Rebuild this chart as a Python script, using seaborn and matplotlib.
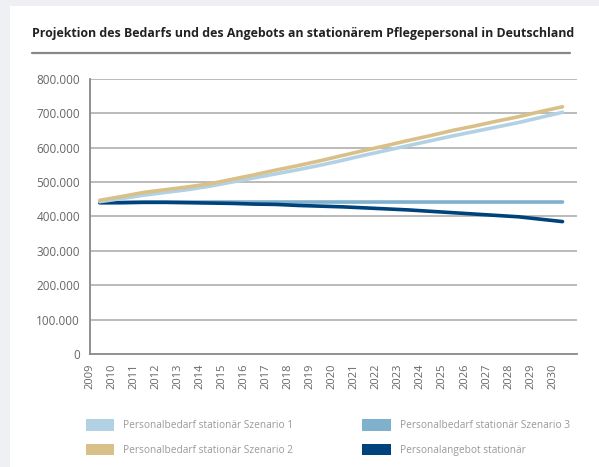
import numpy as np
import pandas as pd
import matplotlib
matplotlib.use("Agg")
import matplotlib.pyplot as plt
import seaborn as sns
from matplotlib.patches import Patch
from matplotlib.lines import Line2D

# Jahre und Werte
jahre = list(range(2009, 2031))
szenario1 = [443000, 452000, 462000, 470000, 478000, 488000, 500000, 512000, 524000, 536000,
             549000, 563000, 578000, 592000, 606000, 620000, 634000, 647000, 660000, 673000,
             688000, 703000]
szenario2 = [447000, 458000, 470000, 478000, 486000, 495000, 508000, 521000, 535000, 548000,
             562000, 577000, 592000, 606000, 621000, 635000, 650000, 663000, 677000, 690000,
             705000, 719000]
szenario3 = [440000, 441000, 442000, 442000, 442000, 442000, 442000, 442000, 442000, 442000,
             442000, 442000, 442000, 442000, 442000, 442000, 442000, 442000, 442000, 442000,
             442000, 442000]
angebot = [440000, 440000, 441000, 441000, 440000, 439000, 438000, 436000, 435000, 432000,
           430000, 428000, 425000, 422000, 419000, 415000, 411000, 407000, 403000, 399000,
           392000, 385000]

namen = ["Personalbedarf stationär Szenario 1", "Personalbedarf stationär Szenario 2",
         "Personalbedarf stationär Szenario 3", "Personalangebot stationär"]
farben = ["#b3d1e4", "#d9c088", "#7fb0cc", "#00427b"]

df = pd.DataFrame({
    "jahr": jahre * 4,
    "wert": szenario1 + szenario2 + szenario3 + angebot,
    "reihe": sum([[n] * len(jahre) for n in namen], []),
})
# Linien liegen etwas rechts vom Jahresstrich
df["x"] = df["jahr"] + 0.45

sns.set_style("white")
plt.rcParams["font.family"] = ["Open Sans", "DejaVu Sans"]

fig = plt.figure(figsize=(5.99, 4.67), dpi=100)
fig.patch.set_facecolor("#eef0f4")
# weisses Panel
fig.add_artist(plt.Rectangle((10 / 599, 0), 1, 1 - 6 / 467, transform=fig.transFigure,
                             facecolor="white", edgecolor="none", zorder=0))

ax = fig.add_axes([0.150, 0.242, 0.813, 0.589])
ax.set_facecolor("white")

for y in range(100000, 800001, 100000):
    ax.axhline(y, color="#b5b5b5", lw=1.3, zorder=1)

sns.lineplot(data=df, x="x", y="wert", hue="reihe", hue_order=[namen[2], namen[3], namen[0], namen[1]],
             palette=dict(zip(namen, farben)), lw=2.6, ax=ax, legend=False, zorder=3)

ax.set_xlim(2009, 2031.1)
ax.set_ylim(0, 800000)
ax.set_xticks(jahre)
ax.set_xticklabels([str(j) for j in jahre], rotation=90, fontsize=8, color="#666666")
ax.set_yticks(range(0, 800001, 100000))
ax.set_yticklabels(["0"] + [f"{v // 1000}.000" for v in range(100000, 800001, 100000)],
                   fontsize=8.5, color="#666666")
ax.set_xlabel("")
ax.set_ylabel("")
for s in ["top", "right"]:
    ax.spines[s].set_visible(False)
for s in ["left", "bottom"]:
    ax.spines[s].set_color("#888888")
    ax.spines[s].set_linewidth(1.3)
ax.tick_params(axis="both", direction="out", length=5, width=1.2, color="#888888", pad=2)

fig.text(32 / 599, 1 - 33 / 467, "Projektion des Bedarfs und des Angebots an stationärem Pflegepersonal in Deutschland",
         fontsize=8.9, fontweight="bold", color="#222222", va="center", ha="left")
fig.add_artist(Line2D([32 / 599, 570 / 599], [1 - 53 / 467] * 2, transform=fig.transFigure,
                      color="#888888", lw=1.6))

handles = [Patch(facecolor=c, edgecolor="none") for c in farben]
fig.legend(handles, namen, ncol=2, loc="upper left", bbox_to_anchor=(0.128, 1 - 410 / 467),
           frameon=False, fontsize=7.3, labelcolor="#999999", handlelength=2.8, handleheight=1.4,
           columnspacing=6.8, labelspacing=1.2, handletextpad=0.9)

fig.savefig("out.png", dpi=100, facecolor=fig.get_facecolor())
